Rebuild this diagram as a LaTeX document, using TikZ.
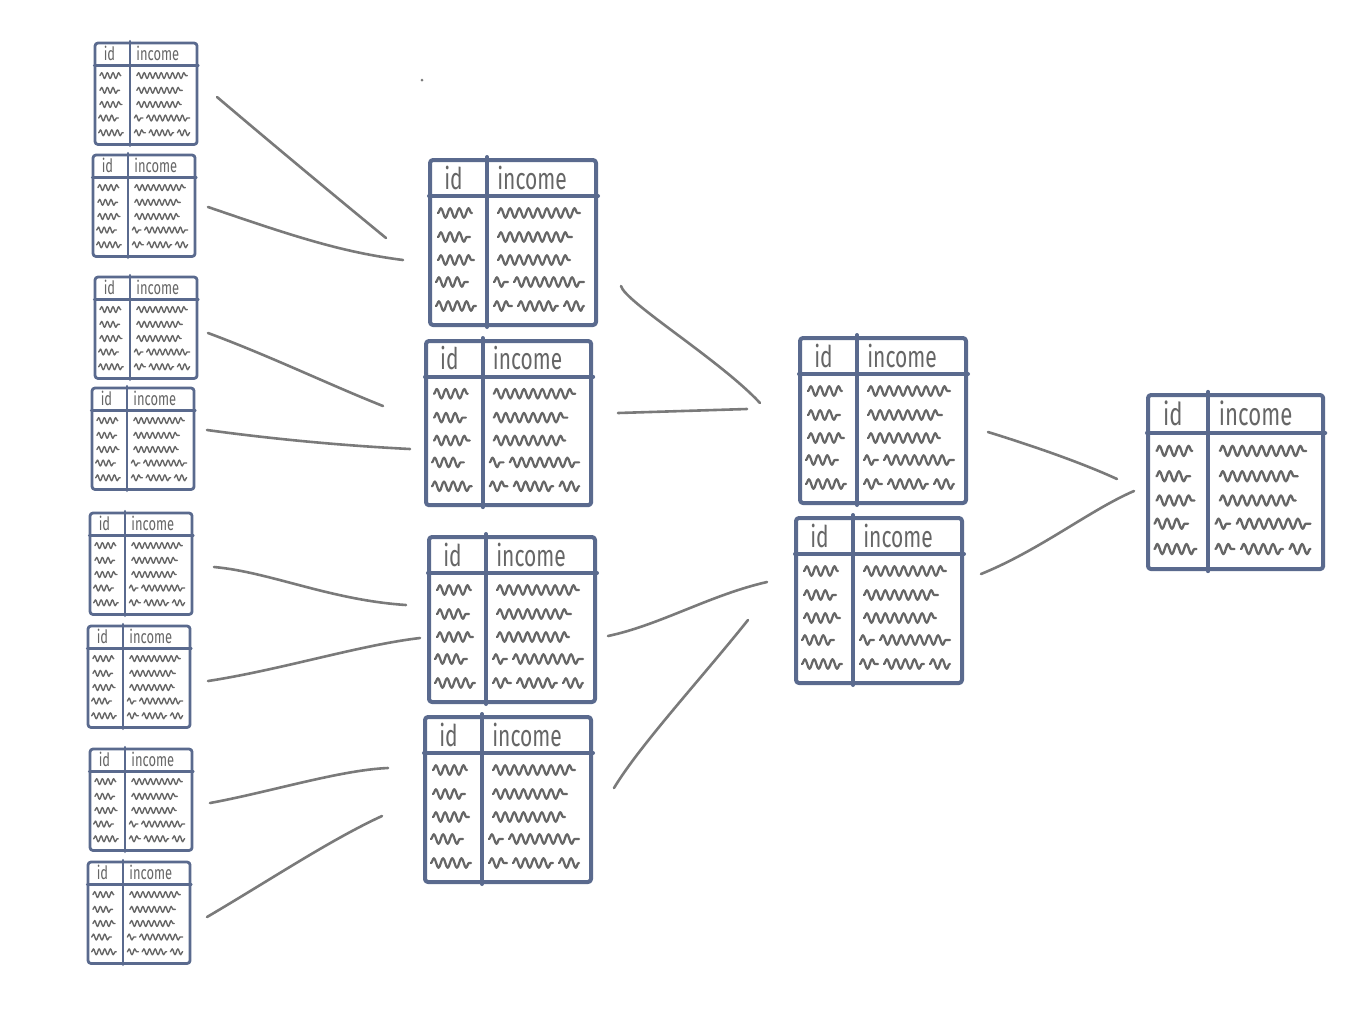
\documentclass[tikz,border=0pt]{standalone}
\usepackage{fontspec}
\setmainfont{Fira Sans}
\usetikzlibrary{decorations.pathmorphing}
\definecolor{tblc}{HTML}{5A6A8E}
\definecolor{inkc}{HTML}{666666}
\definecolor{linec}{HTML}{7A7A7A}
\tikzset{
  tblline/.style={draw=tblc, line cap=round, line join=round},
  hdr/.style={text=inkc, font=\fontsize{15}{15}\selectfont, inner sep=0pt, xscale=0.7},
  conn/.style={draw=linec, line width=1.3pt, line cap=round},
}
\newcommand{\dbtable}[5]{%
  \begin{scope}[shift={(#2,#3)}, scale=#4]
    \pgfmathsetmacro{\sqamp}{2.4*#4}
    \pgfmathsetmacro{\sqseg}{4.6*#4}
    \pgfmathsetmacro{\sqlw}{1.1*#4}
    \tikzset{sq/.style={draw=inkc, line width=\sqlw pt, line cap=round, line join=round,
      decorate, decoration={snake, amplitude=\sqamp pt, segment length=\sqseg pt}}}
    \coordinate (#1) at (83,82);
    \draw[tblline, line width=#5, rounded corners=1.5pt] (0,0) rectangle (166,165);
    \draw[tblline, line width=#5] (-1,36) -- (168,36);
    \draw[tblline, line width=#5] (57,-3) -- (57,167);
    \node[hdr, scale=#4, anchor=base west] (#1-id) at (14,29) {id};
    \node[hdr, scale=#4, anchor=base west] (#1-inc) at (67,29) {income};
    % left column scribbles
    \draw[sq] (8,53) -- (42,53);
    \draw[sq] (8,77) -- (40,77);
    \draw[sq] (8,100) -- (44,100);
    \draw[sq] (6,122) -- (38,122);
    \draw[sq] (6,146) -- (46,146);
    % right column scribbles
    \draw[sq] (68,53) -- (150,53);
    \draw[sq] (68,77) -- (142,77);
    \draw[sq] (68,100) -- (140,100);
    \draw[sq] (64,122) -- (78,122);
    \draw[sq] (84,122) -- (154,122);
    \draw[sq] (64,146) -- (82,146);
    \draw[sq] (88,146) -- (128,146);
    \draw[sq] (134,146) -- (154,146);
  \end{scope}}
\begin{document}
\begin{tikzpicture}[x=0.5pt, y=-0.5pt]
  \useasboundingbox (0,0) rectangle (1366,1024);
  \fill[white] (0,0) rectangle (1366,1024);

  % left column
  \dbtable{T1}{95}{43}{0.615}{1.4pt}
  \dbtable{T2}{93}{155}{0.615}{1.4pt}
  \dbtable{T3}{95}{277}{0.615}{1.4pt}
  \dbtable{T4}{92}{388}{0.615}{1.4pt}
  \dbtable{T5}{90}{513}{0.615}{1.4pt}
  \dbtable{T6}{88}{626}{0.615}{1.4pt}
  \dbtable{T7}{90}{749}{0.615}{1.4pt}
  \dbtable{T8}{88}{862}{0.615}{1.4pt}
  % second column
  \dbtable{M1}{430}{160}{1}{2pt}
  \dbtable{M2}{426}{341}{0.995}{2pt}
  \dbtable{M3}{429}{537}{1}{2pt}
  \dbtable{M4}{425}{717}{1}{2pt}
  % third column
  \dbtable{N1}{800}{338}{1}{2pt}
  \dbtable{N2}{796}{518}{1}{2pt}
  % result
  \dbtable{R}{1148}{395}{1.055}{2pt}

  % connector end points
  \coordinate (c1a) at (217,97);   \coordinate (c1b) at (386,238);
  \coordinate (c2a) at (208,207);  \coordinate (c2b) at (403,260);
  \coordinate (c3a) at (208,333);  \coordinate (c3b) at (383,406);
  \coordinate (c4a) at (207,430);  \coordinate (c4b) at (410,449);
  \coordinate (c5a) at (214,567);  \coordinate (c5b) at (406,605);
  \coordinate (c6a) at (208,681);  \coordinate (c6b) at (420,638);
  \coordinate (c7a) at (210,803);  \coordinate (c7b) at (388,768);
  \coordinate (c8a) at (207,917);  \coordinate (c8b) at (382,816);
  \coordinate (c9a) at (621,286);  \coordinate (c9b) at (760,403);
  \coordinate (c10a) at (618,413); \coordinate (c10b) at (747,409);
  \coordinate (c11a) at (608,636); \coordinate (c11b) at (767,582);
  \coordinate (c12a) at (614,788); \coordinate (c12b) at (748,620);
  \coordinate (c13a) at (988,432); \coordinate (c13b) at (1117,479);
  \coordinate (c14a) at (981,574); \coordinate (c14b) at (1134,491);

  \draw[conn] (c1a) .. controls (270,142) and (330,192) .. (c1b);
  \draw[conn] (c2a) .. controls (290,235) and (340,252) .. (c2b);
  \draw[conn] (c3a) .. controls (270,356) and (330,385) .. (c3b);
  \draw[conn] (c4a) .. controls (280,440) and (350,446) .. (c4b);
  \draw[conn] (c5a) .. controls (270,572) and (330,600) .. (c5b);
  \draw[conn] (c6a) .. controls (280,670) and (360,645) .. (c6b);
  \draw[conn] (c7a) .. controls (270,792) and (340,770) .. (c7b);
  \draw[conn] (c8a) .. controls (270,880) and (330,840) .. (c8b);
  \draw[conn] (c9a) .. controls (625,302) and (720,360) .. (c9b);
  \draw[conn] (c10a) -- (c10b);
  \draw[conn] (c11a) .. controls (660,625) and (710,595) .. (c11b);
  \draw[conn] (c12a) .. controls (640,745) and (700,680) .. (c12b);
  \draw[conn] (c13a) .. controls (1030,445) and (1080,462) .. (c13b);
  \draw[conn] (c14a) .. controls (1040,550) and (1090,510) .. (c14b);

  \fill[linec] (422,80) circle (1.5);
\end{tikzpicture}
\end{document}
